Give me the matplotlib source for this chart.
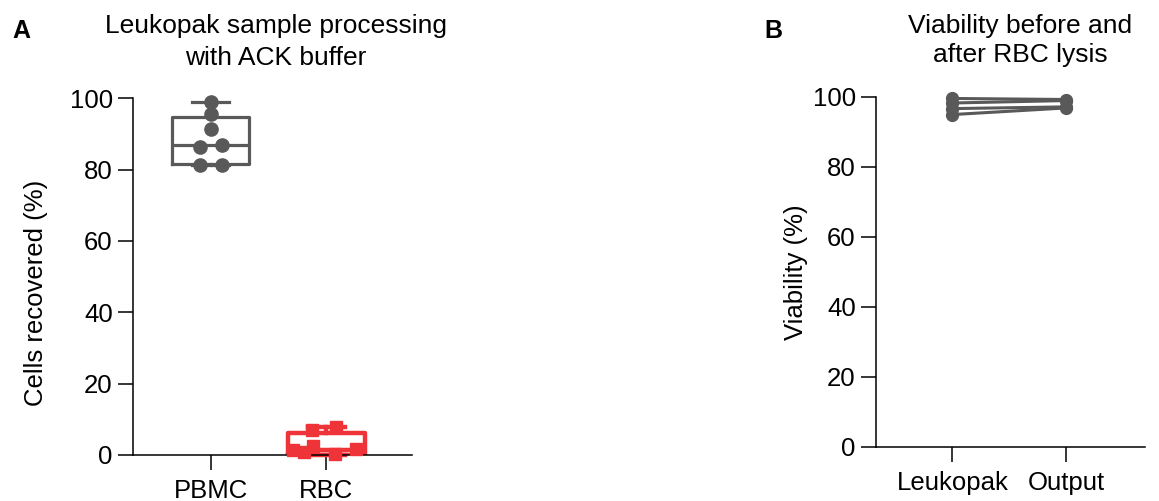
import matplotlib
matplotlib.use("Agg")
import matplotlib.pyplot as plt
import numpy as np

plt.rcParams['font.family'] = ['Liberation Sans', 'DejaVu Sans']

# ---- Panel A data ----
groups_a = ["PBMC", "RBC"]
pbmc_values = [99.0, 95.5, 91.5, 86.4, 86.8, 81.2, 81.2]
pbmc_offsets = [0.0, 0.0, 0.0, -0.095, 0.095, -0.095, 0.095]
rbc_values = [1.4, 2.4, 7.1, 7.8, 0.4, 1.7, 0.9]
rbc_offsets = [-0.29, -0.11, -0.12, 0.085, 0.08, 0.26, -0.19]
# box statistics: q1, median, q3, whisker low, whisker high
pbmc_box = dict(q1=81.7, med=87.0, q3=94.8, whislo=81.2, whishi=99.0)
rbc_box = dict(q1=0.0, med=1.3, q3=6.1, whislo=0.0, whishi=7.9)

# ---- Panel B data ----
groups_b = ["Leukopak", "Output"]
leukopak_viab = [99.5, 98.2, 96.6, 94.9]
output_viab = [99.2, 98.9, 97.1, 96.8]

grey = "#595959"
red = "#EE3339"

fig = plt.figure(figsize=(11.59, 5.01), dpi=100)

W, H = 1159, 501
def ax_rect(x0, x1, ybot, ytop):
    return [x0 / W, (H - ybot) / H, (x1 - x0) / W, (ybot - ytop) / H]

# ---------------- Panel A ----------------
axA = fig.add_axes(ax_rect(133, 412, 455, 98.3))
stats = []
for name, b in zip(groups_a, [pbmc_box, rbc_box]):
    s = dict(b)
    s['fliers'] = []
    s['label'] = name
    stats.append(s)

for i, (s, col, lw) in enumerate(zip(stats, [grey, red], [2.3, 3.2])):
    axA.bxp([s], positions=[i], widths=0.667, capwidths=0.32,
            showfliers=False, patch_artist=False,
            boxprops=dict(color=col, linewidth=lw),
            whiskerprops=dict(color=col, linewidth=lw),
            capprops=dict(color=col, linewidth=lw),
            medianprops=dict(color=col, linewidth=lw),
            manage_ticks=False)
    for line in axA.lines[-5:]:
        line.set_clip_on(False)

axA.plot(np.array(pbmc_offsets) + 0, pbmc_values, 'o', color=grey,
         markersize=9.5, clip_on=False, zorder=5)
axA.plot(np.array(rbc_offsets) + 1, rbc_values, 's', color=red,
         markersize=9.0, clip_on=False, zorder=5)

axA.set_xlim(-0.674, 1.745)
axA.set_ylim(0, 100)
axA.set_xticks([0, 1])
axA.set_xticklabels(groups_a)
axA.set_yticks([0, 20, 40, 60, 80, 100])

# ---------------- Panel B ----------------
axB = fig.add_axes(ax_rect(876, 1145, 447, 96.7))
for a, b in zip(leukopak_viab, output_viab):
    axB.plot([0, 1], [a, b], '-', color=grey, linewidth=2.2, clip_on=False)
axB.plot([0] * len(leukopak_viab), leukopak_viab, 'o', color=grey,
         markersize=8.5, clip_on=False, zorder=5)
axB.plot([1] * len(output_viab), output_viab, 'o', color=grey,
         markersize=8.5, clip_on=False, zorder=5)
axB.set_xlim(-0.671, 1.689)
axB.set_ylim(0, 100)
axB.set_xticks([0, 1])
axB.set_xticklabels(groups_b)
axB.set_yticks([0, 20, 40, 60, 80, 100])

for ax in (axA, axB):
    for sp in ('top', 'right'):
        ax.spines[sp].set_visible(False)
    for sp in ('left', 'bottom'):
        ax.spines[sp].set_linewidth(1.1)
    ax.tick_params(axis='both', direction='out', length=11, width=1.1,
                   labelsize=18.5, colors='black')
    ax.tick_params(axis='y', pad=3.5)
    ax.tick_params(axis='x', pad=6)

# axis labels
fig.text(36 / W, 1 - 293 / H, "Cells recovered (%)", rotation=90,
         ha='center', va='center', fontsize=18.5)
fig.text(796 / W, 1 - 272 / H, "Viability (%)", rotation=90,
         ha='center', va='center', fontsize=18.5)

# titles
fig.text(276 / W, 1 - 32.5 / H, "Leukopak sample processing", ha='center',
         va='baseline', fontsize=19)
fig.text(276 / W, 1 - 65 / H, "with ACK buffer", ha='center',
         va='baseline', fontsize=19)
fig.text(1020 / W, 1 - 33 / H, "Viability before and", ha='center',
         va='baseline', fontsize=19)
fig.text(1020 / W, 1 - 62 / H, "after RBC lysis", ha='center',
         va='baseline', fontsize=19)

# panel letters
fig.text(12 / W, 1 - 38 / H, "A", ha='left', va='baseline',
         fontsize=18, fontweight='bold')
fig.text(764 / W, 1 - 38 / H, "B", ha='left', va='baseline',
         fontsize=18, fontweight='bold')

fig.savefig("out.png", dpi=100)
